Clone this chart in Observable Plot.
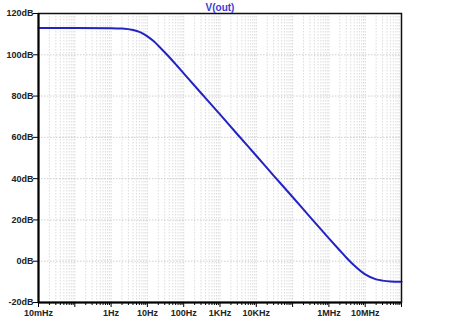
<!DOCTYPE html>
<html><head><meta charset="utf-8">
<script src="https://cdn.jsdelivr.net/npm/d3@7"></script>
<script src="https://cdn.jsdelivr.net/npm/@observablehq/plot@0.6"></script>
<style>html,body{margin:0;padding:0;background:#fff;}</style>
</head><body><div id="chart"></div>
<script>
const title = "V(out)";
// frequency (Hz) and gain (dB)
const freqHz = [0.01, 0.1, 1, 2, 4, 6, 8, 10, 15, 20, 30, 50, 100, 300, 1000, 3000, 10000, 30000, 100000, 300000, 1e6, 2e6, 3e6, 5e6, 1e7, 2e7, 3e7, 5e7, 1e8];
const gainDb = [113.0, 113.0, 112.9, 112.7, 112.0, 111.1, 110.0, 108.9, 106.5, 104.4, 101.2, 97.0, 91.0, 81.5, 71.1, 61.5, 51.1, 41.5, 31.1, 21.5, 11.1, 5.2, 1.8, -2.1, -6.4, -8.8, -9.4, -9.8, -9.95];

const yTicks = [-20, 0, 20, 40, 60, 80, 100, 120];
const yTickLabels = ["-20dB", "0dB", "20dB", "40dB", "60dB", "80dB", "100dB", "120dB"];
const decades = [0.01, 0.1, 1, 10, 100, 1000, 10000, 100000, 1e6, 1e7, 1e8];
const decadeLabels = ["10mHz", "", "1Hz", "10Hz", "100Hz", "1KHz", "10KHz", "", "1MHz", "10MHz", ""];
const multipliers = [2, 3, 4, 5, 6, 7, 8, 9];

const data = freqHz.map((f, i) => ({f, db: gainDb[i]}));
const minor = decades.slice(0, -1).flatMap(d => multipliers.map(m => d * m));

const chart = Plot.plot({
  width: 450, height: 322,
  marginTop: 13, marginLeft: 38, marginRight: 49, marginBottom: 20,
  style: {fontFamily: "'Liberation Sans', Arial, sans-serif", fontSize: "9px", fontWeight: "bold", color: "#222", background: "#fff"},
  x: {type: "log", domain: [0.01, 1e8], label: null},
  y: {domain: [-20, 120], label: null},
  marks: [
    Plot.gridX(minor, {stroke: "#bbb", strokeOpacity: 0.5, strokeDasharray: "1.5,1.5"}),
    Plot.gridX(decades, {stroke: "#bbb", strokeOpacity: 0.6, strokeDasharray: "1.5,1.5"}),
    Plot.gridY(yTicks, {stroke: "#bbb", strokeOpacity: 0.7, strokeDasharray: "1.5,1.5"}),
    Plot.axisX(minor, {tickSize: 3, tickFormat: () => "", stroke: "#000", label: null}),
    Plot.axisX(decades, {tickSize: 5, tickPadding: 2, stroke: "#000", label: null, tickFormat: d => decadeLabels[decades.indexOf(d)] ?? ""}),
    Plot.axisY(yTicks, {tickSize: 5, tickPadding: 0, stroke: "#000", label: null, tickFormat: d => yTickLabels[yTicks.indexOf(d)]}),
    Plot.line(data, {x: "f", y: "db", stroke: "#2323c4", strokeWidth: 2, curve: "monotone-x"}),
    Plot.frame({stroke: "#111", strokeWidth: 1.5}),
    Plot.ruleX([0.01], {stroke: "#000", strokeWidth: 2}),
    Plot.ruleY([-20], {stroke: "#000", strokeWidth: 2}),
    Plot.text([title], {frameAnchor: "top", lineAnchor: "bottom", dy: -3, fill: "#3b3bd6", fontSize: 10, fontWeight: "bold"})
  ]
});
document.getElementById("chart").append(chart);
</script>
</body></html>
